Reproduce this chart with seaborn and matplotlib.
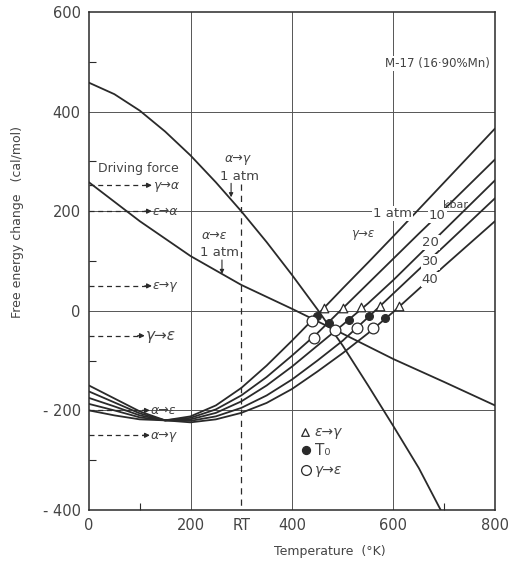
import matplotlib
matplotlib.use("Agg")
import matplotlib.pyplot as plt
import numpy as np
import pandas as pd
import seaborn as sns

sns.set_theme(style="white")
plt.rcParams["font.family"] = ["DejaVu Sans"]

# --- данные ---
temps = [0, 50, 100, 150, 200, 250, 300, 350, 400, 450, 500, 550, 600, 650, 700, 750, 800]
g2e_1atm = [-200, -210, -218, -220, -212, -190, -155, -110, -60, -8, 45, 97, 150, 204, 258, 312, 366]
g2e_10kbar = [-187, -200, -214, -220, -215, -198, -170, -133, -90, -45, 5, 55, 105, 155, 204, 254, 304]
g2e_20kbar = [-175, -192, -210, -220, -218, -205, -182, -150, -112, -70, -28, 15, 62, 112, 162, 212, 262]
g2e_30kbar = [-162, -184, -206, -220, -221, -212, -195, -170, -138, -100, -60, -13, 35, 83, 130, 178, 226]
g2e_40kbar = [-150, -176, -202, -220, -224, -218, -205, -185, -157, -122, -85, -45, -2, 44, 90, 135, 180]

a2g_T = [0, 50, 100, 150, 200, 250, 300, 350, 400, 450, 500, 550, 600, 650, 693]
a2g_G = [458, 435, 402, 360, 312, 258, 200, 138, 72, 3, -70, -150, -232, -316, -400]

a2e_T = [0, 100, 200, 300, 400, 500, 600, 700, 800]
a2e_G = [258, 180, 110, 52, 4, -46, -97, -143, -190]

# маркеры: ε→γ (треугольники), T0 (точки), γ→ε (кружки)
tri_T = [463, 500, 536, 573, 611]
tri_G = [6, 6, 8, 9, 9]
t0_T = [449, 473, 512, 552, 583]
t0_G = [-10, -24, -18, -10, -14]
circ_T = [439, 443, 485, 528, 560]
circ_G = [-20, -54, -38, -34, -34]

# стрелки "Driving force" слева
df_levels = [252, 200, 50, -50, -200, -250]
df_ends = [124, 124, 124, 110, 120, 120]
df_labels = ["γ→α", "ε→α", "ε→γ", "γ→ε", "α→ε", "α→γ"]

# подписи кривых давления
p_labels = ["1 atm", "10", "20", "30", "40"]
p_label_T = [598, 686, 672, 672, 672]
p_label_G = [195, 192, 138, 98, 63]

x_ticks = [0, 200, 300, 400, 600, 800]
x_ticklabels = ["0", "200", "RT", "400", "600", "800"]
y_ticks = [-400, -200, 0, 200, 400, 600]
y_ticklabels = ["- 400", "- 200", "0", "200", "400", "600"]

ink = "#2a2a2a"
txt = "#444444"

curves = pd.concat(
    [
        pd.DataFrame({"T": temps, "G": g, "curve": name})
        for name, g in [
            ("1atm", g2e_1atm),
            ("10", g2e_10kbar),
            ("20", g2e_20kbar),
            ("30", g2e_30kbar),
            ("40", g2e_40kbar),
        ]
    ]
    + [
        pd.DataFrame({"T": a2g_T, "G": a2g_G, "curve": "a2g"}),
        pd.DataFrame({"T": a2e_T, "G": a2e_G, "curve": "a2e"}),
    ],
    ignore_index=True,
)

fig = plt.figure(figsize=(5.16, 5.65), dpi=100)
ax = fig.add_axes([89 / 516, 1 - 510 / 565, (495 - 89) / 516, (510 - 12) / 565])

# сетка вручную (без линии на RT)
for gx in [200, 400, 600]:
    ax.axvline(gx, color="#555555", lw=0.7, zorder=1)
for gy in [-200, 0, 200, 400]:
    ax.axhline(gy, color="#555555", lw=0.7, zorder=1)

sns.lineplot(
    data=curves, x="T", y="G", units="curve", estimator=None, sort=False,
    color=ink, lw=1.3, ax=ax, zorder=3,
)

# RT
ax.plot([300, 300], [255, -400], color=ink, lw=0.9, ls=(0, (5, 4)), zorder=2)

# маркеры
sns.scatterplot(x=tri_T, y=tri_G, marker="^", s=38, color="white",
                edgecolor=ink, linewidth=0.9, ax=ax, zorder=5)
sns.scatterplot(x=t0_T, y=t0_G, marker="o", s=32, color=ink,
                edgecolor=ink, linewidth=0.8, ax=ax, zorder=5)
sns.scatterplot(x=circ_T, y=circ_G, marker="o", s=60, color="white",
                edgecolor=ink, linewidth=0.9, ax=ax, zorder=5)

# Driving force
ax.text(18, 286, "Driving force", fontsize=9, color=txt, va="center", ha="left",
        bbox=dict(fc="white", ec="none", pad=0.5), zorder=4)
for lvl, xe, lab in zip(df_levels, df_ends, df_labels):
    big = lab in ("γ→ε",)
    ax.plot([0, xe - 12], [lvl, lvl], color=ink, lw=0.9, ls=(0, (4, 3)), zorder=4)
    ax.annotate("", xy=(xe, lvl), xytext=(xe - 14, lvl),
                arrowprops=dict(arrowstyle="-|>", color=ink, lw=0.9,
                                mutation_scale=7, shrinkA=0, shrinkB=0), zorder=4)
    ax.text(xe + 2, lvl, lab, fontsize=11 if big else 9, color=txt,
            va="center", ha="left", style="italic", zorder=4)

# подписи 1 atm
ax.text(293, 306, "α→γ", fontsize=9, color=txt, ha="center", va="center", style="italic")
ax.text(297, 270, "1 atm", fontsize=9.5, color=txt, ha="center", va="center")
ax.annotate("", xy=(280, 228), xytext=(280, 256),
            arrowprops=dict(arrowstyle="-|>", color=ink, lw=0.8, mutation_scale=6,
                            shrinkA=0, shrinkB=0))
ax.text(248, 152, "α→ε", fontsize=9, color=txt, ha="center", va="center", style="italic")
ax.text(258, 118, "1 atm", fontsize=9.5, color=txt, ha="center", va="center",
        bbox=dict(fc="white", ec="none", pad=0.5), zorder=4)
ax.annotate("", xy=(262, 74), xytext=(262, 102),
            arrowprops=dict(arrowstyle="-|>", color=ink, lw=0.8, mutation_scale=6,
                            shrinkA=0, shrinkB=0))

for lab, xl, yl in zip(p_labels, p_label_T, p_label_G):
    ax.text(xl, yl, lab, fontsize=9.5, color=txt, ha="center", va="center",
            bbox=dict(fc="white", ec="none", pad=0.8), zorder=6)
ax.text(722, 213, "kbar", fontsize=8, color=txt, ha="center", va="center", zorder=6)
ax.text(540, 156, "γ→ε", fontsize=8.5, color=txt, ha="center", va="center",
        style="italic", bbox=dict(fc="white", ec="none", pad=0.5), zorder=6)

ax.text(790, 497, "M-17 (16·90%Mn)", fontsize=8.5, color=txt, ha="right", va="center",
        bbox=dict(fc="white", ec="none", pad=0.5), zorder=6)

# легенда вручную
ax.scatter([426], [-244], marker="^", s=30, facecolor="white", edgecolor=ink, lw=0.9, zorder=6)
ax.scatter([428], [-280], marker="o", s=32, facecolor=ink, edgecolor=ink, zorder=6)
ax.scatter([428], [-320], marker="o", s=50, facecolor="white", edgecolor=ink, lw=0.9, zorder=6)
ax.text(445, -244, "ε→γ", fontsize=10, color=txt, va="center", style="italic")
ax.text(445, -280, "T₀", fontsize=11, color=txt, va="center")
ax.text(445, -320, "γ→ε", fontsize=10, color=txt, va="center", style="italic")

ax.set_xlim(0, 800)
ax.set_ylim(-400, 600)
ax.set_xticks(x_ticks)
ax.set_xticklabels(x_ticklabels)
ax.set_yticks(y_ticks)
ax.set_yticklabels(y_ticklabels)
ax.set_xticks([100, 700], minor=True)
ax.set_yticks([-300, -100, 100, 300, 500], minor=True)
ax.tick_params(which="major", length=0, labelsize=10.5, labelcolor=txt, pad=6)
ax.tick_params(which="minor", direction="in", length=5, width=0.8, color=ink,
               left=True, bottom=True)
ax.set_xlabel("")
ax.set_ylabel("")
for sp in ax.spines.values():
    sp.set_color(ink)
    sp.set_linewidth(1.1)

fig.text(330 / 516, 1 - 552 / 565, "Temperature  (°K)", fontsize=9, color=txt,
         ha="center", va="center")
fig.text(18 / 516, 1 - 222 / 565, "Free energy change   (cal/mol)", fontsize=9,
         color=txt, ha="center", va="center", rotation=90)

fig.savefig("out.png", dpi=100)
